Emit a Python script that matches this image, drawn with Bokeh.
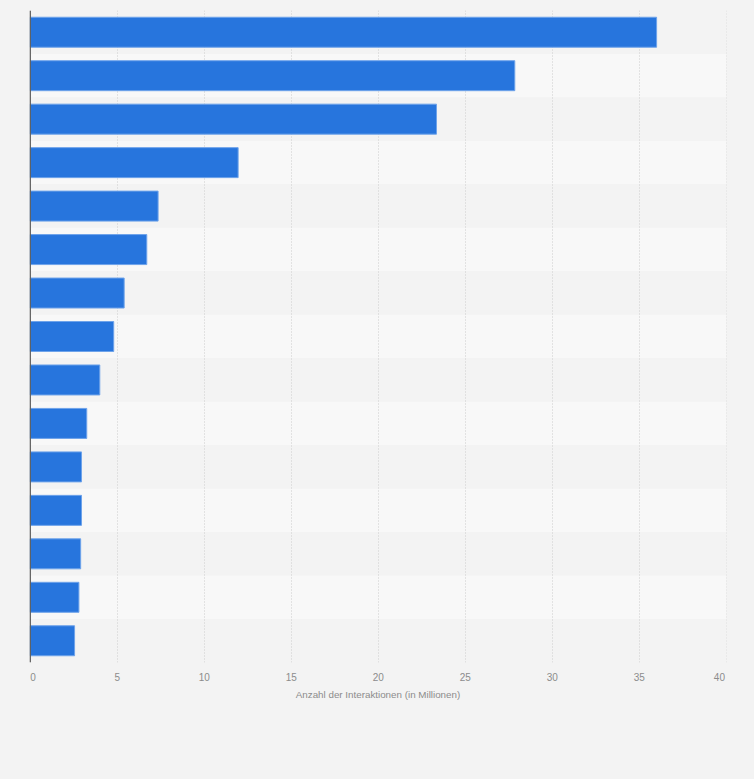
from bokeh.embed import file_html
from bokeh.resources import INLINE
from bokeh.models import FactorRange, Range1d, FixedTicker, Span
from bokeh.plotting import figure

# The reference shows no category names, so categories are ranks (top to bottom)
categories = [f"Rang {i}" for i in range(1, 16)]
values = [36.0, 27.85, 23.35, 11.95, 7.35, 6.7, 5.4, 4.8, 4.0, 3.25, 2.95, 2.95, 2.9, 2.8, 2.55]
band_colors = ["#f3f3f3", "#f8f8f8"] * 7 + ["#f3f3f3"]
tick_labels = ["0", "5", "10", "15", "20", "25", "30", "35", "40"]
grid_values = [0, 5, 10, 15, 20, 25, 30, 35, 40]
# the end labels sit inside the plot edges in the reference (left- and right-aligned)
label_positions = [0.16, 5, 10, 15, 20, 25, 30, 35, 39.61]
x_start, x_max, x_end = -0.04, 40, 40.017
x_title = "Anzahl der Interaktionen (in Millionen)"

PAGE = "#f3f3f3"
FONT = "Liberation Sans"
TICK = "#8c8c8c"

p = figure(width=754, height=779, output_backend="svg", toolbar_location=None,
           x_range=Range1d(x_start, x_end), y_range=FactorRange(factors=categories[::-1]),
           min_border_left=29, min_border_right=28, min_border_top=10, min_border_bottom=117,
           background_fill_color=PAGE, border_fill_color=PAGE, outline_line_color=None)

p.hbar(y=categories, right=[x_max] * len(categories), left=0, height=1.0,
       fill_color=band_colors, line_color=None, level="image")
p.hbar(y=categories, right=values, left=0, height=0.69, fill_color="#2775dd",
       line_color="#6ea3ea", line_width=1)

p.yaxis.visible = False
p.ygrid.visible = False
p.xgrid.ticker = FixedTicker(ticks=grid_values)
p.xgrid.grid_line_color = "#cccccc"
p.xgrid.grid_line_dash = [1, 2]
p.xgrid.grid_line_width = 1
p.xgrid.level = "underlay"

ax = p.xaxis[0]
ax.ticker = FixedTicker(ticks=label_positions)
ax.major_label_overrides = dict(zip(label_positions, tick_labels))
ax.axis_line_color = None
ax.major_tick_line_color = None
ax.minor_tick_line_color = None
ax.major_label_text_font = FONT
ax.major_label_text_font_size = "10px"
ax.major_label_text_color = TICK
ax.major_label_standoff = 4
ax.axis_label = x_title
ax.axis_label_text_font = FONT
ax.axis_label_text_font_size = "9.8px"
ax.axis_label_text_font_style = "normal"
ax.axis_label_text_color = TICK
ax.axis_label_standoff = 5

p.add_layout(Span(location=0, dimension="height", line_color="#5f5f5f", line_width=1.5))

html = file_html(p, INLINE)
html = html.replace("<head>", f"<head><style>html,body{{background:{PAGE};}}</style>", 1)
open("out.html", "w").write(html)
